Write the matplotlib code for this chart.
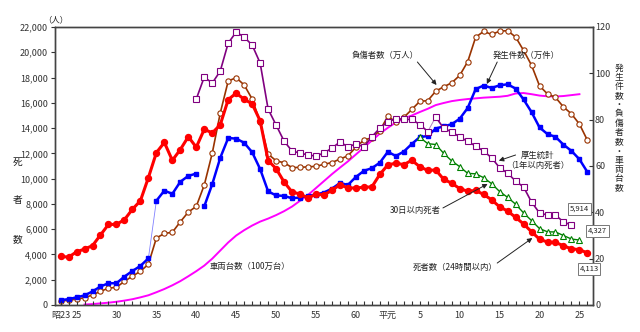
import matplotlib.pyplot as plt
import numpy as np

plt.rcParams['font.family'] = ['Noto Sans CJK JP', 'DejaVu Sans']

# 昭和23年(1948) - 平成26年(2014)
years = np.arange(1948, 2015)
deaths_24h = [3848, 3790, 4202, 4429, 4696, 5544, 6374, 6379, 6751, 7575,
              8248, 10079, 12055, 12865, 11445, 12301, 13318, 12484, 13904, 13618,
              14256, 16257, 16765, 16278, 15918, 14574, 11432, 10792, 9734, 8945,
              8783, 8466, 8760, 8719, 9073, 9520, 9262, 9261, 9317, 9347,
              10344, 11086, 11227, 11109, 11452, 10942, 10649, 10684, 9942, 9640,
              9211, 9006, 9066, 8747, 8326, 7768, 7436, 6937, 6415, 5796,
              5209, 4979, 4948, 4691, 4438, 4388, 4113]
accidents = [2.13, 2.51, 3.32, 4.14, 5.85, 8.00, 9.39, 9.40, 12.27, 14.68,
             16.88, 20.13, 44.99, 49.37, 47.98, 53.20, 55.72, 56.73, 42.59, 52.15,
             63.51, 72.09, 71.81, 70.03, 65.93, 58.67, 49.05, 47.29, 47.10, 46.06,
             46.40, 47.16, 47.67, 48.56, 50.23, 52.64, 51.86, 55.28, 57.92, 59.07,
             61.45, 66.14, 64.31, 66.24, 69.53, 72.47, 72.95, 76.18, 77.11, 78.04,
             80.39, 85.04, 93.20, 94.73, 93.70, 94.83, 95.27, 93.43, 88.73, 83.27,
             76.64, 73.76, 72.59, 69.21, 66.52, 62.90, 57.38]
injured = [1.76, 2.02, 2.55, 3.13, 4.33, 5.93, 7.24, 7.65, 10.21, 12.45,
           14.54, 17.60, 28.92, 30.87, 31.38, 35.91, 40.11, 42.57, 51.78, 65.54,
           82.81, 96.70, 98.11, 94.97, 88.92, 78.99, 65.14, 62.25, 61.40, 59.32,
           59.41, 59.63, 59.87, 60.73, 61.50, 63.00, 64.40, 68.10, 71.20, 72.20,
           75.30, 81.50, 79.00, 81.00, 84.40, 87.90, 88.20, 92.30, 94.20, 95.90,
           99.10, 105.0, 115.6, 118.1, 116.8, 118.2, 118.4, 115.7, 109.9, 103.5,
           94.6, 91.1, 89.6, 85.5, 82.5, 78.1, 71.1]

welfare_years = np.arange(1965, 2013)
welfare_deaths = [16300, 18040, 17560, 18510, 20730, 21600, 21200, 20570, 19150, 15500,
                  14240, 12970, 12180, 12030, 11870, 11790, 12030, 12420, 12900, 12520,
                  12740, 12520, 13320, 14000, 14500, 14750, 14690, 14690, 14280, 13730,
                  14880, 13980, 13700, 13300, 12950, 12580, 12180, 11650, 10860, 10440,
                  9810, 9340, 8150, 7280, 7120, 7120, 6570, 6330]

days30_years = np.arange(1993, 2014)
deaths_30d = [13269, 12768, 12700, 12000, 11400, 10950, 10420, 10380, 10080, 9600,
              8980, 8520, 7980, 7290, 6680, 6050, 5790, 5780, 5500, 5220, 5140]

vehicle_years = np.arange(1951, 2014)
vehicles = [0.2, 0.4, 0.7, 1.0, 1.4, 1.9, 2.5, 3.3, 4.2, 5.5,
            6.9, 8.5, 10.3, 12.4, 14.6, 17.0, 20.0, 23.5, 27.0, 30.0,
            32.3, 34.3, 36.0, 37.3, 38.8, 40.5, 42.5, 45.0, 47.5, 50.5,
            53.5, 56.5, 59.3, 62.0, 65.0, 68.0, 71.0, 74.0, 76.5, 78.8,
            80.5, 81.8, 83.3, 84.7, 86.3, 87.2, 88.0, 88.5, 88.9, 89.2,
            89.5, 89.7, 89.9, 90.3, 91.3, 91.5, 91.0, 90.4, 90.1, 90.0,
            90.2, 90.6, 91.0]

tick_years = [1948, 1950, 1955, 1960, 1965, 1970, 1975, 1980, 1985, 1989,
              1993, 1998, 2003, 2008, 2013]
tick_labels = ['昭23', '25', '30', '35', '40', '45', '50', '55', '60', '平元',
               '5', '10', '15', '20', '25']

RED, BLUE, BROWN = '#FF0000', '#0000FF', '#993300'
PURPLE, GREEN, MAGENTA = '#800080', '#008000', '#FF00FF'
TXT = '#222222'

fig = plt.figure(figsize=(6.4, 3.32), dpi=100)
ax = fig.add_axes([55 / 640, 27 / 332, 538 / 640, 278 / 332])
ax2 = ax.twinx()
ax.set_zorder(ax2.get_zorder() + 1)
ax.patch.set_visible(False)

# right axis series
ax2.plot(vehicle_years, vehicles, color=MAGENTA, lw=1.4)
ax2.plot(years, injured, color=BROWN, lw=1.2, marker='o', ms=3.8,
         mfc='white', mec=BROWN, mew=0.8)
ax2.plot(years[11:13], accidents[11:13], color='#8080FF', lw=0.6)
for a, b in [(0, 12), (12, 18), (18, len(years))]:
    ax2.plot(years[a:b], accidents[a:b], color=BLUE, lw=1.8, marker='s', ms=3.5)

# left axis series
ax.plot(welfare_years[29:31], welfare_deaths[29:31], color='#B080C0', lw=0.7)
for a, b in [(0, 30), (30, len(welfare_years))]:
    ax.plot(welfare_years[a:b], welfare_deaths[a:b], color=PURPLE, lw=1.2,
            marker='s', ms=4.2, mfc='white', mec=PURPLE, mew=0.8)
ax.plot(days30_years, deaths_30d, color=GREEN, lw=1.0, marker='^', ms=4.2,
        mfc='white', mec=GREEN, mew=0.8)
ax.plot(years, deaths_24h, color=RED, lw=2.2, marker='o', ms=4.3)

# axes
ax.set_xlim(1947.3, 2014.7)
ax.set_ylim(0, 22000)
ax2.set_ylim(0, 120)
ax.set_yticks(np.arange(0, 22001, 2000))
ax.set_yticklabels([f'{v:,}' for v in range(0, 22001, 2000)])
ax2.set_yticks(np.arange(0, 121, 20))
ax.set_xticks(tick_years)
ax.set_xticklabels(tick_labels)
ax.set_xticks(np.arange(1948, 2015), minor=True)
ax.tick_params(axis='x', which='both', direction='in', length=3, width=0.8,
               labelsize=6.5, colors='#333333', pad=4)
ax.tick_params(axis='y', direction='out', length=3, width=0.8, labelsize=6.5,
               colors='#333333', pad=2)
ax2.tick_params(axis='y', direction='in', length=3, width=0.8, labelsize=6.5,
                colors='#333333', pad=1.5)
for a in (ax, ax2):
    for s in a.spines.values():
        s.set_color('#444444')
        s.set_linewidth(1.0)

# axis titles
fig.text(56 / 640, 1 - 20 / 332, '（人）', fontsize=6, ha='center', va='center', color=TXT)
for ch, py in zip('死者数', [162, 200, 239]):
    fig.text(18 / 640, 1 - py / 332, ch, fontsize=7, ha='center', va='center', color=TXT)
fig.text(619 / 640, 1 - 128 / 332, '\n'.join('発生件数・負傷者数・車両台数'),
         fontsize=6.3, ha='center', va='center', linespacing=1.03, color=TXT)

# annotations
arrow = dict(arrowstyle='-|>', color='#222222', lw=0.7, mutation_scale=7,
             shrinkA=0, shrinkB=0)
fs = 6
ax.text(1988.7, 19785, '負傷者数（万人）', fontsize=fs, ha='center', va='center', color=TXT)
ax.annotate('', xy=(1995.1, 17410), xytext=(1992.7, 19230), arrowprops=arrow)
ax.text(2006.3, 19785, '発生件数（万件）', fontsize=fs, ha='center', va='center', color=TXT)
ax.annotate('', xy=(2001.4, 17490), xytext=(2002.7, 19230), arrowprops=arrow)
ax.text(2007.8, 11450, '厚生統計\n（1年以内死者）', fontsize=fs, ha='center',
        va='center', color=TXT, linespacing=1.1)
ax.annotate('', xy=(2002.9, 11420), xytext=(2005.0, 11870), arrowprops=arrow)
ax.text(1992.4, 7520, '30日以内死者', fontsize=fs, ha='center', va='center', color=TXT)
ax.annotate('', xy=(2001.5, 9580), xytext=(1995.9, 7680), arrowprops=arrow)
ax.text(1997.4, 3010, '死者数（24時間以内）', fontsize=fs, ha='center', va='center', color=TXT)
ax.annotate('', xy=(2007.1, 5300), xytext=(2002.7, 3320), arrowprops=arrow)
ax.text(1971.7, 3030, '車両台数（100万台）', fontsize=fs, ha='center', va='center', color=TXT)

box = dict(boxstyle='square,pad=0.25', fc='white', ec='#777777', lw=0.7)
ax.text(2013.0, 7600, '5,914', fontsize=5.5, ha='center', va='center', bbox=box, color=TXT)
ax.text(2015.3, 5860, '4,327', fontsize=5.5, ha='center', va='center', bbox=box,
        color=TXT, clip_on=False, zorder=10)
ax.text(2014.2, 2850, '4,113', fontsize=5.5, ha='center', va='center', bbox=box,
        color=TXT, clip_on=False, zorder=10)

fig.savefig('out.png', dpi=100)
